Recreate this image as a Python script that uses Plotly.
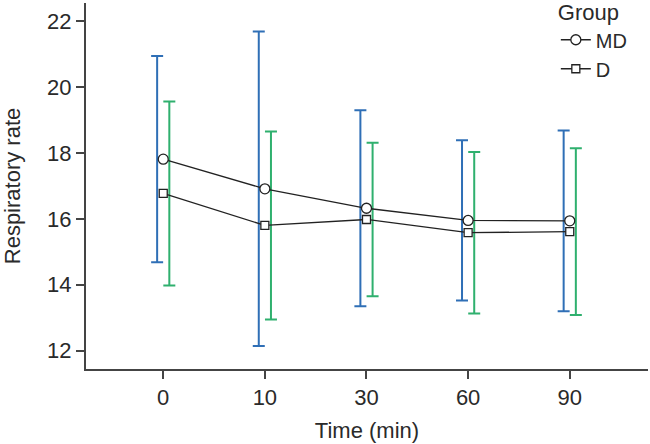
import plotly.graph_objects as go

time_labels = ["0", "10", "30", "60", "90"]
md_mean = [17.81, 16.91, 16.32, 15.95, 15.94]
md_sd = [3.13, 4.77, 2.97, 2.43, 2.74]
d_mean = [16.77, 15.80, 15.98, 15.58, 15.61]
d_sd = [2.79, 2.85, 2.33, 2.45, 2.53]

BLUE = "#2f6fb6"
GREEN = "#2fb06e"
INK = "#222222"
AX = "#444444"
TXT = "#2a2a2a"
FONT = "Liberation Sans, Arial, sans-serif"
FS = 22

xpos = list(range(len(time_labels)))
off = 0.06

fig = go.Figure()

fig.add_trace(go.Scatter(
    x=[p - off for p in xpos], y=md_mean, mode="markers",
    marker=dict(size=1, opacity=0), showlegend=False, hoverinfo="skip",
    error_y=dict(type="data", array=md_sd, color=BLUE, thickness=2, width=6)))
fig.add_trace(go.Scatter(
    x=[p + off for p in xpos], y=d_mean, mode="markers",
    marker=dict(size=1, opacity=0), showlegend=False, hoverinfo="skip",
    error_y=dict(type="data", array=d_sd, color=GREEN, thickness=2, width=6)))

fig.add_trace(go.Scatter(
    x=xpos, y=md_mean, mode="lines+markers", name="MD",
    line=dict(color=INK, width=1.3),
    marker=dict(symbol="circle", size=10, color="white",
                line=dict(color=INK, width=1.3))))
fig.add_trace(go.Scatter(
    x=xpos, y=d_mean, mode="lines+markers", name="D",
    line=dict(color=INK, width=1.3),
    marker=dict(symbol="square", size=8, color="white",
                line=dict(color=INK, width=1.3))))

fig.update_layout(
    width=650, height=444,
    margin=dict(l=86, r=2, t=3, b=75, autoexpand=False),
    paper_bgcolor="white", plot_bgcolor="white",
    font=dict(family=FONT, size=FS, color=TXT),
    legend=dict(
        title=dict(text="Group", font=dict(size=FS, color=TXT)),
        x=0.836, xanchor="left", y=1.031, yanchor="top",
        bgcolor="rgba(0,0,0,0)", font=dict(size=20, color=TXT),
        tracegroupgap=0, itemwidth=30),
    xaxis=dict(
        range=[-0.76, 4.77], tickmode="array", tickvals=xpos, ticktext=time_labels,
        showgrid=False, zeroline=False, showline=True, linecolor=AX, linewidth=2,
        ticks="outside", ticklen=8, tickwidth=1.5, tickcolor=AX, automargin=False,
        title=dict(text="Time (min)", font=dict(size=FS), standoff=13)),
    yaxis=dict(
        range=[11.445, 22.546], tickvals=[12, 14, 16, 18, 20, 22],
        showgrid=False, zeroline=False, showline=True, linecolor=AX, linewidth=2,
        ticks="outside", ticklen=8, tickwidth=1.5, tickcolor=AX, automargin=False,
        title=dict(text="Respiratory rate", font=dict(size=FS), standoff=24)),
)

fig.write_html("out.html", config={"displayModeBar": False},
               post_script="document.body.style.margin='0px';")
